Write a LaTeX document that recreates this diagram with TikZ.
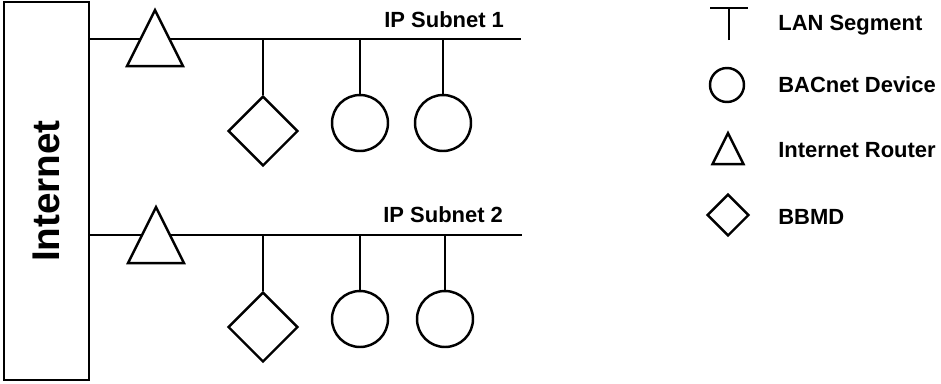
\documentclass[tikz,border=0pt]{standalone}
\usepackage{fontspec}
\setmainfont{Liberation Sans}
\usetikzlibrary{shapes.geometric}

\tikzset{
	net/.style={line width=1.4pt},
	router/.style={draw,net,fill=white,isosceles triangle,isosceles triangle stretches,shape border rotate=90,inner sep=0pt,minimum width=#1,minimum height=#1,anchor=apex},
	bbmd/.style={draw,net,diamond,inner sep=0pt,minimum width=#1,minimum height=#1},
	device/.style={draw,net,circle,inner sep=0pt,minimum size=#1},
	lbl/.style={font=\fontsize{12.5}{15}\selectfont\bfseries,inner sep=0pt},
}

\begin{document}
\begin{tikzpicture}[x=0.02cm,y=-0.02cm]
	\useasboundingbox (0,0) rectangle (941,383);
	% internet backbone
	\node [draw,net,minimum width=1.7cm,minimum height=7.56cm] (inet) at (46.5,191) {};
	\node [rotate=90,font=\fontsize{22}{26}\selectfont\bfseries] (inettxt) at (inet.center) {Internet};
	% subnet 1
	\coordinate (endA) at (521,39);
	\draw [net] (inet.east |- endA) -- (endA);
	\node [router=1.12cm] (rtrA) at (155,7) {};
	\node [bbmd=1.4cm] (bbmdA) at (263,131) {};
	\node [device=1.12cm] (devA1) at (360,123) {};
	\node [device=1.12cm] (devA2) at (443,123) {};
	\foreach \n in {bbmdA,devA1,devA2}
		\draw [net] (\n) -- (\n |- endA);
	\node [lbl,anchor=base west] (subA) at (384,27) {IP Subnet 1};
	% subnet 2
	\coordinate (endB) at (522,235);
	\draw [net] (inet.east |- endB) -- (endB);
	\node [router=1.12cm] (rtrB) at (156,204) {};
	\node [bbmd=1.4cm] (bbmdB) at (263,327) {};
	\node [device=1.12cm] (devB1) at (360,319) {};
	\node [device=1.12cm] (devB2) at (445,319) {};
	\foreach \n in {bbmdB,devB1,devB2}
		\draw [net] (\n) -- (\n |- endB);
	\node [lbl,anchor=base west] (subB) at (383,222) {IP Subnet 2};
	% legend
	\coordinate (segL) at (710,8);
	\coordinate (segR) at (748,8);
	\coordinate (segB) at (729,40);
	\draw [net] (segL) -- (segR);
	\draw [net] (segB) -- (segB |- segL);
	\node [device=0.68cm] (keyDev) at (727,85) {};
	\node [router=0.62cm] (keyRtr) at (728,130) {};
	\node [bbmd=0.84cm] (keyBbmd) at (728,215) {};
	\node [lbl,anchor=base west] (txtSeg) at (778,30) {LAN Segment};
	\node [lbl,anchor=base west] (txtDev) at (778,92.5) {BACnet Device};
	\node [lbl,anchor=base west] (txtRtr) at (778,157) {Internet Router};
	\node [lbl,anchor=base west] (txtBbmd) at (778,224) {BBMD};
\end{tikzpicture}
\end{document}
